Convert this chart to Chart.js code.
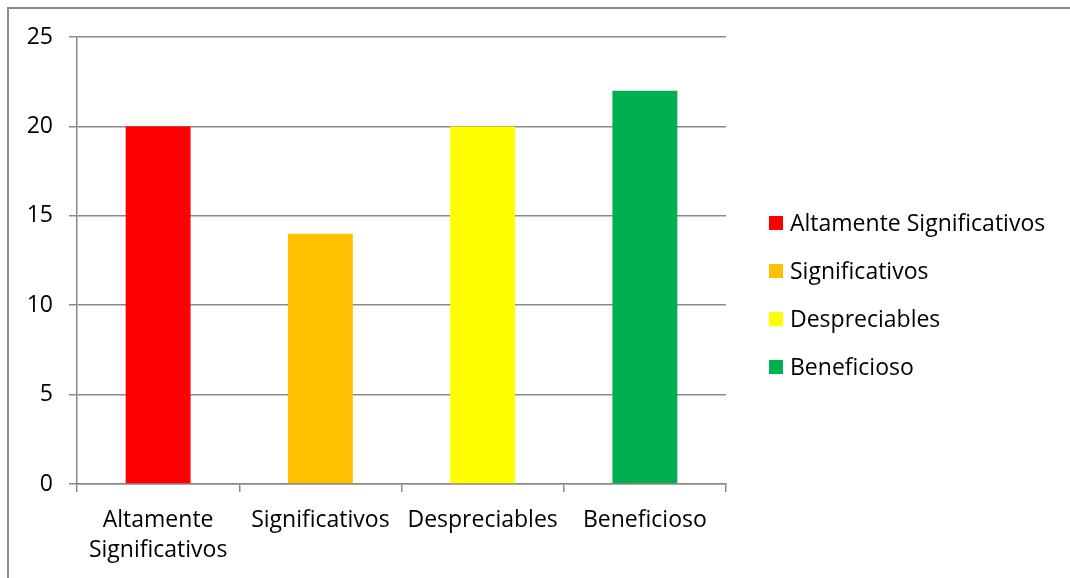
<!DOCTYPE html>
<html>
<head>
<meta charset="utf-8">
<script src="https://cdn.jsdelivr.net/npm/chart.js@4.4.1/dist/chart.umd.min.js"></script>
<style>
  html, body { margin: 0; padding: 0; background: #fff; }
  #wrap { position: relative; width: 1070px; height: 578px; }
</style>
</head>
<body>
<div id="wrap"><canvas id="c" width="1070" height="578"></canvas></div>
<script>
const categories = ['Altamente Significativos', 'Significativos', 'Despreciables', 'Beneficioso'];
const tickLabels = [['Altamente', 'Significativos'], 'Significativos', 'Despreciables', 'Beneficioso'];
const values = [20, 14, 20, 22];
const barColors = ['#FF0000', '#FFC000', '#FFFF00', '#00B050'];
const yMin = 0, yMax = 25, yStep = 5;

const FONT = '"Open Sans", Lato, sans-serif';
const FSIZE = 23;
const GRID = '#898989';

const borderPlugin = {
  id: 'outerBorder',
  beforeDraw(chart) {
    const ctx = chart.ctx;
    ctx.save();
    ctx.fillStyle = '#fff';
    ctx.fillRect(0, 0, chart.width, chart.height);
    ctx.strokeStyle = '#8c8c8c';
    ctx.lineWidth = 2;
    ctx.beginPath();
    ctx.moveTo(8, chart.height + 2);
    ctx.lineTo(8, 8);
    ctx.lineTo(chart.width + 2, 8);
    ctx.stroke();
    ctx.restore();
  }
};

const legendPlugin = {
  id: 'sideLegend',
  afterDraw(chart) {
    const ctx = chart.ctx;
    const labels = chart.data.datasets[0].legendLabels;
    const colors = chart.data.datasets[0].backgroundColor;
    ctx.save();
    ctx.font = FSIZE + 'px ' + FONT;
    ctx.textBaseline = 'middle';
    ctx.fillStyle = '#000';
    const x0 = 769, y0 = 223, gap = 48;
    labels.forEach((t, i) => {
      const y = y0 + i * gap;
      ctx.fillStyle = colors[i];
      ctx.fillRect(x0, y - 7, 14, 14);
      ctx.fillStyle = '#000';
      ctx.fillText(t, x0 + 21, y + 1);
    });
    ctx.restore();
  }
};

new Chart(document.getElementById('c'), {
  type: 'bar',
  data: {
    labels: tickLabels,
    datasets: [{
      data: values,
      backgroundColor: barColors,
      legendLabels: categories,
      barPercentage: 0.4,
      categoryPercentage: 1.0,
      borderWidth: 0
    }]
  },
  options: {
    responsive: false,
    animation: false,
    devicePixelRatio: 1,
    layout: { padding: { left: 0, top: 37, right: 1070 - 726, bottom: 0 } },
    plugins: { legend: { display: false }, tooltip: { enabled: false } },
    scales: {
      x: {
        afterFit(s) { s.height = 578 - 484; },
        grid: { display: true, drawOnChartArea: false, drawTicks: true, tickLength: 8, color: GRID, lineWidth: 1.5, offset: true },
        border: { display: true, color: GRID, width: 1.5 },
        ticks: { color: '#000', font: { family: FONT, size: FSIZE, lineHeight: 1.3 }, padding: 14, maxRotation: 0, autoSkip: false }
      },
      y: {
        min: yMin, max: yMax,
        afterFit(s) { s.width = 77; },
        grid: { color: GRID, lineWidth: 1.5, drawTicks: true, tickLength: 8 },
        border: { display: true, color: GRID, width: 1.5 },
        ticks: { stepSize: yStep, color: '#000', font: { family: FONT, size: FSIZE }, padding: 16 }
      }
    }
  },
  plugins: [borderPlugin, legendPlugin]
});
</script>
</body>
</html>
